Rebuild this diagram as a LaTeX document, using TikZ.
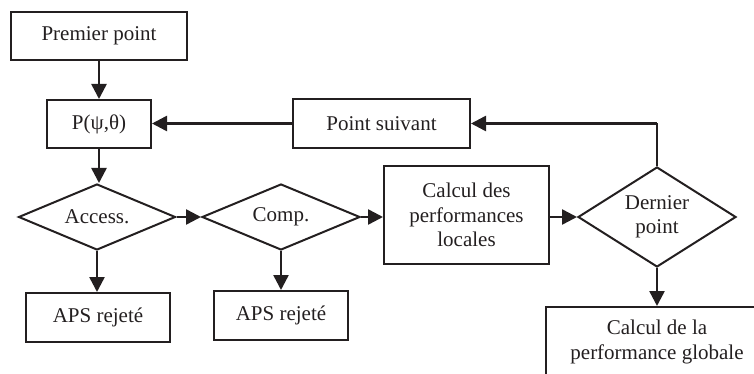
\documentclass[tikz,border=0pt]{standalone}
\usepackage{fontspec}
\setmainfont{Liberation Serif}
\usetikzlibrary{arrows.meta,shapes.geometric}
\definecolor{ink}{HTML}{231F20}
\tikzset{
  box/.style={draw=ink, line width=2pt, rectangle, inner sep=0pt, align=center, text=ink,
    font=\fontsize{21}{24.5}\selectfont},
  dia/.style={draw=ink, line width=2pt, diamond, aspect=2, inner sep=0pt, align=center, text=ink,
    font=\fontsize{21}{24.5}\selectfont},
  arr/.style={draw=ink, line width=2.5pt, -{Triangle[length=15pt,width=15pt]}},
  ln/.style={draw=ink, line width=2.5pt}
}
\begin{document}
\begin{tikzpicture}[x=1pt,y=-1pt]
\useasboundingbox (0,0) rectangle (754,374);
\clip (0,0) rectangle (754,374);
\node[box, minimum width=176pt, minimum height=48pt] (prem) at (99,36) {Premier point};
\node[box, minimum width=104pt, minimum height=48pt] (p) at (99,124) {P(ψ,θ)};
\node[box, minimum width=177pt, minimum height=49pt] (ps) at (381.5,123.5) {Point suivant};
\node[dia, minimum width=157pt, minimum height=66pt] (acc) at (97,217) {Access.};
\node[dia, minimum width=158pt, minimum height=66pt] (comp) at (281,217) {Comp.};
\node[box, minimum width=165pt, minimum height=97pt] (calc) at (466.5,215) {Calcul des\\performances\\locales};
\node[dia, minimum width=158pt, minimum height=100pt, aspect=1.6] (dern) at (657,217) {Dernier\\point};
\node[box, minimum width=144pt, minimum height=49pt] (aps1) at (98,317.5) {APS rejeté};
\node[box, minimum width=134pt, minimum height=49pt] (aps2) at (281,315.5) {APS rejeté};
\node[box, minimum width=222pt, minimum height=70pt] (glob) at (657,342) {Calcul de la\\performance globale};
\draw[arr] (prem.south -| p.north) -- (p.north);
\draw[arr] (p.south) -- (p.south |- acc.north);
\draw[arr] (ps.west) -- (ps.west -| p.east);
\draw[arr] (acc.east) -- (comp.west);
\draw[arr] (comp.east) -- (comp.east -| calc.west);
\draw[arr] (calc.east |- dern.west) -- (dern.west);
\draw[arr] (acc.south) -- (acc.south |- aps1.north);
\draw[arr] (comp.south) -- (aps2.north);
\draw[arr] (dern.south) -- (glob.north);
\coordinate (turn) at (dern.north |- ps.east);
\draw[ln] (dern.north) -- (turn);
\draw[arr] (turn) -- (ps.east);
\end{tikzpicture}
\end{document}
